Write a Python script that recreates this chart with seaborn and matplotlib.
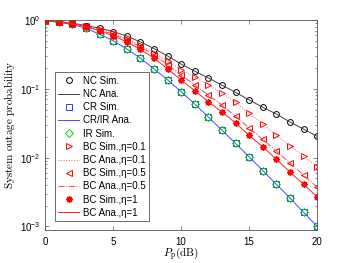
import numpy as np
import seaborn as sns
import matplotlib
matplotlib.use("Agg")
import matplotlib.pyplot as plt
from matplotlib.ticker import LogLocator, NullFormatter

# Transmit power (dB)
pp_db = list(range(0, 21))

# Outage probabilities
nc = [0.97, 0.95, 0.90, 0.83, 0.76, 0.68, 0.585, 0.48, 0.385, 0.30, 0.229,
      0.18, 0.144, 0.113, 0.089, 0.069, 0.054, 0.043, 0.033, 0.026, 0.0204]
cr_ir = [0.97, 0.93, 0.86, 0.76, 0.62, 0.50, 0.38, 0.28, 0.195, 0.135, 0.091,
         0.060, 0.039, 0.025, 0.0161, 0.0103, 0.0065, 0.0041, 0.0026, 0.0016, 0.00101]
bc_01 = [0.97, 0.95, 0.895, 0.82, 0.735, 0.64, 0.535, 0.43, 0.335, 0.25, 0.19,
         0.148, 0.114, 0.086, 0.064, 0.044, 0.031, 0.021, 0.015, 0.0105, 0.0074]
bc_05 = [0.97, 0.945, 0.89, 0.81, 0.72, 0.62, 0.51, 0.41, 0.31, 0.225, 0.158,
         0.114, 0.081, 0.058, 0.040, 0.027, 0.0184, 0.0125, 0.0083, 0.0056, 0.0037]
bc_1 = [0.97, 0.94, 0.88, 0.80, 0.70, 0.59, 0.48, 0.375, 0.28, 0.195, 0.134,
        0.094, 0.065, 0.046, 0.032, 0.021, 0.0144, 0.0095, 0.0062, 0.0041, 0.0027]

plt.rcParams['font.family'] = ['Liberation Sans', 'DejaVu Sans']
plt.rcParams['mathtext.fontset'] = 'custom'
plt.rcParams['mathtext.rm'] = 'Liberation Sans'
plt.rcParams['mathtext.it'] = 'Liberation Serif:italic'
plt.rcParams['font.size'] = 7

fig = plt.figure(figsize=(3.5, 2.63), dpi=100)
ax = fig.add_axes([0.129, 0.127, 0.777, 0.797])

ms = 4.2
mew = 0.7
lw = 0.7

# (label, values, marker, colour, linestyle) for every curve, in legend order
curves = [
    ('NC Sim.', nc, 'o', 'black', 'none'),
    ('NC Ana.', nc, None, '#404040', '-'),
    ('CR Sim.', cr_ir, 's', '#3333ff', 'none'),
    ('CR/IR Ana.', cr_ir, None, '#4a4aff', '-'),
    ('IR Sim.', cr_ir, 'D', '#00dd00', 'none'),
    ('BC Sim.,η=0.1', bc_01, '>', 'red', 'none'),
    ('BC Ana.,η=0.1', bc_01, None, '#ff6060', ':'),
    ('BC Sim.,η=0.5', bc_05, '<', 'red', 'none'),
    ('BC Ana.,η=0.5', bc_05, None, '#ff4040', '-.'),
    ('BC Sim.,η=1', bc_1, (8, 2, 0), 'red', 'none'),
    ('BC Ana.,η=1', bc_1, None, '#ff2020', '-'),
]
sizes = {'o': ms, 's': ms - 0.4, 'D': ms - 0.3, '>': ms + 0.5, '<': ms + 0.5}

handles = []
for label, vals, mk, col, ls in curves:
    sns.lineplot(x=pp_db, y=vals, ax=ax, label=label, color=col, linewidth=lw)
    ln = ax.lines[-1]
    ln.set_linestyle(ls)
    ln.set_color(col)
    if mk is not None:
        ln.set_marker(mk)
        ln.set_markersize(sizes.get(mk, ms + 0.5))
        ln.set_markerfacecolor('none')
        ln.set_markeredgecolor(col)
        ln.set_markeredgewidth(1.0 if mk == (8, 2, 0) else mew)
    handles.append(ln)

ax.set_yscale('log')
ax.set_xlim(0, 20)
ax.set_ylim(9e-4, 1)
ax.set_xticks([0, 5, 10, 15, 20])
ax.yaxis.set_major_locator(LogLocator(base=10, numticks=10))
ax.yaxis.set_minor_locator(LogLocator(base=10, subs=np.arange(2, 10), numticks=20))
ax.yaxis.set_minor_formatter(NullFormatter())
ax.tick_params(which='both', direction='in', top=True, right=True, labelsize=7,
               color='#555555', width=0.5)
ax.tick_params(which='major', length=3)
ax.tick_params(which='minor', length=1.5)
ax.tick_params(axis='x', pad=5)
for s in ax.spines.values():
    s.set_color('#555555')
    s.set_linewidth(0.6)

ax.set_xlabel(r'$P_{\mathrm{p}}\mathrm{(dB)}$', fontsize=8, math_fontfamily='cm', labelpad=-1)
ax.set_ylabel(r'$\mathrm{System\ outage\ probability}$', fontsize=8,
              math_fontfamily='cm', labelpad=2)

leg = ax.legend(handles, [h.get_label() for h in handles], loc='upper left',
                bbox_to_anchor=(0.035, 0.75), fontsize=7, frameon=True,
                fancybox=False, framealpha=1, edgecolor='#555555', borderpad=0.35,
                labelspacing=0.33, handlelength=2.2, handletextpad=0.4,
                borderaxespad=0)
leg.get_frame().set_linewidth(0.6)

fig.savefig('out.png', dpi=100)
